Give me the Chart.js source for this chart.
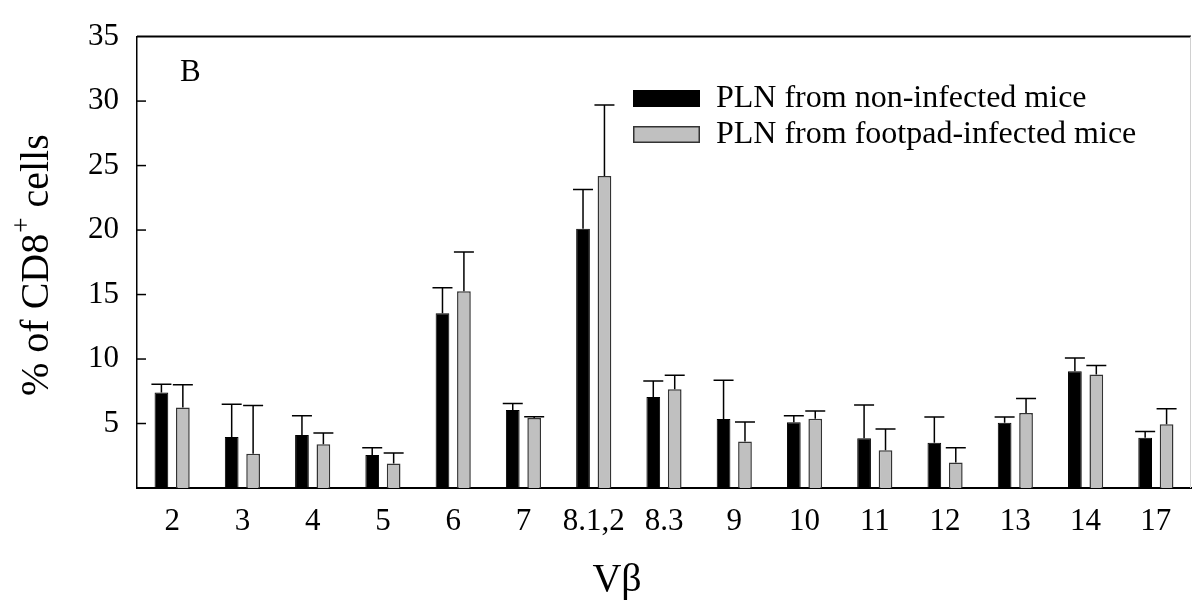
<!DOCTYPE html>
<html><head><meta charset="utf-8">
<script src="https://cdn.jsdelivr.net/npm/chart.js@4"></script>
<style>html,body{margin:0;padding:0;background:#fff}#wrap{width:1192px;height:614px;position:relative}</style>
</head><body><div id="wrap"><canvas id="c" width="1192" height="614"></canvas></div>
<script>
const categories = ['2','3','4','5','6','7','8.1,2','8.3','9','10','11','12','13','14','17'];
const nonInfectedMean = [7.4, 3.95, 4.1, 2.55, 13.55, 6.05, 20.1, 7.05, 5.35, 5.1, 3.85, 3.5, 5.05, 9.05, 3.9];
const nonInfectedSD   = [0.65, 2.55, 1.5, 0.57, 1.97, 0.5, 3.05, 1.25, 3.0, 0.5, 2.58, 2.0, 0.45, 1.03, 0.48];
const footpadMean     = [6.25, 2.65, 3.4, 1.9, 15.25, 5.42, 24.2, 7.65, 3.6, 5.37, 2.92, 1.97, 5.82, 8.8, 4.95];
const footpadSD       = [1.75, 3.75, 0.87, 0.82, 3.05, 0.1, 5.5, 1.1, 1.52, 0.6, 1.65, 1.15, 1.11, 0.7, 1.2];
const yTickValues = [5, 10, 15, 20, 25, 30, 35];
const seriesLabels = ['PLN from non-infected mice', 'PLN from footpad-infected mice'];
const panelLabel = 'B';
const xTitle = 'Vβ';
const yTitleParts = ['% of CD8', '+', ' cells'];

const FONT = '"Liberation Serif", "Times New Roman", serif';

const errorBars = {
  id: 'errorBars',
  afterDatasetsDraw(chart) {
    const ctx = chart.ctx, ys = chart.scales.y;
    ctx.save();
    ctx.strokeStyle = '#000';
    ctx.lineWidth = 1.5;
    chart.data.datasets.forEach((ds, i) => {
      const meta = chart.getDatasetMeta(i);
      meta.data.forEach((el, j) => {
        const top = ys.getPixelForValue(ds.data[j] + ds.errorValues[j]);
        const x = el.x;
        ctx.beginPath();
        ctx.moveTo(x, el.y);
        ctx.lineTo(x, top);
        ctx.moveTo(x - 10, top);
        ctx.lineTo(x + 10, top);
        ctx.stroke();
      });
    });
    ctx.restore();
  }
};

const frameAndText = {
  id: 'frameAndText',
  afterDraw(chart) {
    const ctx = chart.ctx, a = chart.chartArea, ys = chart.scales.y;
    ctx.save();
    ctx.strokeStyle = '#000';
    ctx.lineWidth = 2;
    ctx.beginPath();
    ctx.moveTo(a.left, a.top);
    ctx.lineTo(a.right, a.top);
    ctx.stroke();
    ctx.strokeStyle = '#d0d0d0';
    ctx.lineWidth = 1;
    ctx.beginPath();
    ctx.moveTo(a.right - 0.5, a.top);
    ctx.lineTo(a.right - 0.5, a.bottom);
    ctx.stroke();
    ctx.strokeStyle = '#000';
    ctx.lineWidth = 1.5;
    yTickValues.forEach(v => {
      if (v >= ys.max) return;
      const y = ys.getPixelForValue(v);
      ctx.beginPath();
      ctx.moveTo(a.left, y);
      ctx.lineTo(a.left + 9, y);
      ctx.stroke();
    });
    ctx.fillStyle = '#000';
    ctx.font = '31px ' + FONT;
    ctx.textAlign = 'left';
    ctx.textBaseline = 'alphabetic';
    ctx.fillText(panelLabel, 180, 81);
    const ds = chart.data.datasets;
    const rows = [98, 134];
    ctx.font = '32px ' + FONT;
    rows.forEach((ry, i) => {
      ctx.fillStyle = ds[i].backgroundColor;
      ctx.fillRect(633, ry - 8, 67, 17);
      if (i === 1) {
        ctx.strokeStyle = ds[i].borderColor;
        ctx.lineWidth = 1.5;
        ctx.strokeRect(633.75, ry - 7.25, 65.5, 15.5);
      }
      ctx.fillStyle = '#000';
      ctx.textBaseline = 'middle';
      ctx.fillText(seriesLabels[i], 716, ry + 1);
    });
    ctx.font = '40px ' + FONT;
    ctx.textAlign = 'center';
    ctx.textBaseline = 'alphabetic';
    ctx.fillText(xTitle, 617, 591);
    ctx.translate(48, 396);
    ctx.rotate(-Math.PI / 2);
    ctx.textAlign = 'left';
    ctx.font = '40px ' + FONT;
    let x = 0;
    ctx.fillText(yTitleParts[0], x, 0);
    x += ctx.measureText(yTitleParts[0]).width;
    ctx.font = '27px ' + FONT;
    ctx.fillText(yTitleParts[1], x + 1, -18);
    x += ctx.measureText(yTitleParts[1]).width + 1;
    ctx.font = '40px ' + FONT;
    ctx.fillText(yTitleParts[2], x, 0);
    ctx.restore();
  }
};

new Chart(document.getElementById('c'), {
  type: 'bar',
  data: {
    labels: categories,
    datasets: [
      { label: seriesLabels[0], data: nonInfectedMean, errorValues: nonInfectedSD,
        backgroundColor: '#000000', borderColor: '#000000', borderWidth: 1 },
      { label: seriesLabels[1], data: footpadMean, errorValues: footpadSD,
        backgroundColor: '#c0c0c0', borderColor: '#333333', borderWidth: 1.5 }
    ]
  },
  options: {
    responsive: false,
    animation: false,
    devicePixelRatio: 1,
    categoryPercentage: 0.61,
    barPercentage: 0.64,
    layout: { padding: { left: 0, right: 1, top: 22, bottom: 0 } },
    plugins: { legend: { display: false }, tooltip: { enabled: false }, title: { display: false } },
    scales: {
      x: {
        grid: { display: false, drawTicks: false },
        border: { display: true, color: '#000', width: 2 },
        ticks: { color: '#000', font: { family: FONT, size: 31 }, padding: 15, maxRotation: 0, autoSkip: false },
        afterFit: s => { s.height = 126; }
      },
      y: {
        min: 0, max: 35,
        grid: { display: false, drawTicks: false },
        border: { display: true, color: '#000', width: 1.5 },
        ticks: { stepSize: 5, color: '#000', font: { family: FONT, size: 31 }, padding: 18,
                 callback: v => (yTickValues.includes(v) ? String(v) : '') },
        afterFit: s => { s.width = 137; }
      }
    }
  },
  plugins: [errorBars, frameAndText]
});
</script>
</body></html>
